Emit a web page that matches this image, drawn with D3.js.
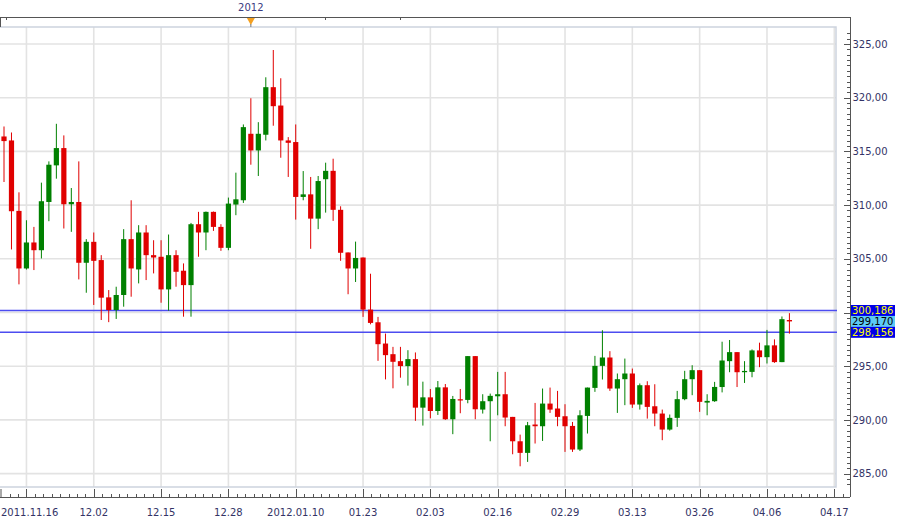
<!DOCTYPE html>
<html><head><meta charset="utf-8">
<script src="https://cdn.jsdelivr.net/npm/d3@7"></script>
<style>body{margin:0;background:#fff}svg{display:block}</style>
</head><body><svg id="c" width="900" height="522"></svg>
<script>
// ---- data (index 0..105) ----
const opens  = [316.39,316.02,309.46,304.10,306.52,305.80,310.29,313.70,315.31,310.08,
                310.29,304.63,306.58,304.88,301.41,300.23,301.63,306.83,304.01,307.45,
                305.34,305.19,302.15,305.34,303.89,302.55,308.22,307.45,309.37,307.97,
                306.02,310.05,310.45,316.64,315.09,316.55,320.98,319.27,316.02,315.87,
                310.76,311.00,308.74,312.41,313.19,309.56,305.59,304.10,305.12,300.27,
                299.09,297.11,296.12,295.47,295.01,295.66,291.14,292.10,290.83,293.03,
                290.06,291.92,291.86,295.94,290.96,291.74,292.20,292.39,290.28,288.01,
                286.93,289.57,289.41,291.52,291.06,290.34,289.44,287.24,290.37,292.98,
                295.03,295.81,292.92,293.79,294.32,291.43,293.23,291.27,290.59,289.10,
                290.19,291.93,293.79,294.63,291.61,291.74,293.06,295.47,296.31,294.44,
                294.47,296.47,295.84,296.94,295.38,299.30];
const highs  = [317.32,316.76,311.19,308.59,307.97,312.09,314.07,317.57,316.49,311.59,
                314.07,306.83,307.45,305.34,302.09,302.40,307.76,310.45,308.13,308.13,
                306.73,306.73,307.26,305.80,304.57,308.34,309.37,309.40,309.40,308.22,
                310.70,313.02,317.51,319.95,317.72,321.90,324.44,321.81,316.33,317.51,
                313.17,312.62,312.71,313.95,314.32,309.89,305.59,306.60,305.12,303.61,
                299.59,298.04,296.80,296.80,296.49,296.28,293.56,292.88,293.62,293.34,
                292.23,292.88,295.94,295.94,292.39,292.45,294.47,294.47,290.28,288.63,
                289.81,291.58,292.92,293.01,292.70,291.46,289.81,290.90,293.01,295.96,
                298.35,296.40,294.32,295.71,294.78,293.39,293.60,293.32,290.96,290.50,
                292.70,294.57,295.09,294.63,292.39,293.54,297.28,297.44,296.31,295.47,
                296.56,297.19,298.38,297.50,299.63,299.94];
const lows   = [312.15,305.87,302.62,304.00,303.95,305.03,308.50,312.46,307.82,307.51,
                303.08,301.84,300.70,299.30,299.10,299.40,300.54,301.47,302.71,303.02,
                303.64,300.91,300.17,302.40,299.61,299.61,305.19,305.80,307.60,305.74,
                305.80,309.06,310.20,313.76,312.71,316.02,317.39,314.41,312.62,308.65,
                310.45,305.93,307.76,309.30,308.53,304.81,301.70,302.84,299.59,298.90,
                295.50,293.77,292.94,293.93,293.19,289.91,289.47,290.15,290.46,290.00,
                288.67,290.62,291.55,290.06,290.59,288.01,290.43,289.41,286.80,285.68,
                286.09,287.80,288.04,290.65,289.41,287.02,287.02,287.10,288.73,292.61,
                293.76,292.70,290.65,291.37,291.12,290.96,290.12,289.41,288.11,289.00,
                289.35,291.83,292.30,290.75,290.43,291.68,292.56,294.44,293.06,293.44,
                293.97,294.91,295.25,295.31,295.38,298.03];
const closes = [315.96,309.43,304.10,306.52,305.80,310.36,313.76,315.31,310.08,310.29,
                304.63,306.58,304.81,301.38,300.23,301.63,306.83,304.10,307.45,305.34,
                305.12,302.15,305.34,303.79,302.55,308.22,307.45,309.37,307.97,306.02,
                310.14,310.54,317.26,315.09,316.64,320.98,319.21,316.02,315.80,310.76,
                311.00,308.74,312.24,313.19,309.56,305.56,304.10,305.08,300.27,299.03,
                297.05,296.03,295.41,295.01,295.66,291.14,292.10,290.83,293.03,290.06,
                291.95,291.86,295.94,290.99,291.74,292.24,292.39,290.22,288.01,286.93,
                289.50,289.41,291.52,290.96,290.28,289.41,287.24,290.43,293.01,295.03,
                295.81,292.92,293.79,294.32,291.43,293.23,291.21,290.59,289.10,290.19,
                291.93,293.79,294.63,291.68,291.77,293.07,295.53,296.31,294.44,294.56,
                296.47,295.84,296.94,295.38,299.38,299.17];

const tickIndex  = [3,12,21,30,39,48,57,66,75,84,93,102,111];
const tickLabels = ["2011.11.16","12.02","12.15","12.28","2012.01.10","01.23","02.03",
                    "02.16","02.29","03.13","03.26","04.06","04.17"];
const priceTicks  = [285,290,295,300,305,310,315,320,325];
const priceLabels = ["285,00","290,00","295,00","","305,00","310,00","315,00","320,00","325,00"];
const levelValues = [300.186, 298.156];
const levelLabels = ["300,186","298,156"];
const lastPrice = 299.170;
const lastLabel = "299,170";
const yearMarkerIndex = 33;
const yearLabel = "2012";

// ---- layout ----
const svg = d3.select("#c");
const plotL = 0, plotR = 836, plotT = 27, plotB = 487;
const axisX = 850, axisTop = 17, axisBottom = 497;
const x = d3.scaleLinear().domain([0, 111]).range([4, 834.3]);
const y = d3.scaleLinear().domain([285, 325]).range([473.6, 44]);
const FONT = "DejaVu Sans, Verdana, sans-serif";
const FS = 10;
const TXT = "#333366";
const RED = "#e00000", GREEN = "#008000";

// grid
const grid = svg.append("g");
grid.selectAll("line.h").data(priceTicks).join("line")
  .attr("x1", plotL).attr("x2", plotR).attr("y1", d => y(d)).attr("y2", d => y(d))
  .attr("stroke", "#e3e3e3").attr("stroke-width", 1.6);
grid.selectAll("line.v").data(tickIndex.filter(i => x(i) < plotR)).join("line")
  .attr("y1", plotT).attr("y2", plotB).attr("x1", d => x(d)).attr("x2", d => x(d))
  .attr("stroke", "#e3e3e3").attr("stroke-width", 1.6);

// plot frame (light)
svg.append("path").attr("d", `M${plotL},${plotT}H${plotR}V${plotB}H${plotL}`)
  .attr("fill", "none").attr("stroke", "#cdd3de").attr("stroke-width", 1.5);

// level lines
svg.selectAll("line.lvl").data(levelValues).join("line")
  .attr("x1", 0).attr("x2", plotR + 1).attr("y1", d => y(d)).attr("y2", d => y(d))
  .attr("stroke", "#4c4cf0").attr("stroke-width", 1.6);

// candles
const idx = d3.range(opens.length);
const cg = svg.append("g");
cg.selectAll("line.w").data(idx).join("line")
  .attr("x1", i => x(i)).attr("x2", i => x(i))
  .attr("y1", i => y(highs[i])).attr("y2", i => y(lows[i]))
  .attr("stroke", i => closes[i] >= opens[i] ? GREEN : RED).attr("stroke-width", 1);
cg.selectAll("rect").data(idx).join("rect")
  .attr("x", i => x(i) - 2.6).attr("width", 5.2)
  .attr("y", i => y(Math.max(opens[i], closes[i])))
  .attr("height", i => Math.max(1.2, Math.abs(y(opens[i]) - y(closes[i]))))
  .attr("fill", i => closes[i] >= opens[i] ? GREEN : RED);

// axes lines
const ax = svg.append("g").attr("stroke", "#555").attr("stroke-width", 1).attr("fill", "none");
ax.append("line").attr("x1", 0).attr("x2", axisX).attr("y1", axisTop + .5).attr("y2", axisTop + .5);
ax.append("line").attr("x1", axisX + .5).attr("x2", axisX + .5).attr("y1", axisTop).attr("y2", axisBottom);
ax.append("line").attr("x1", 0).attr("x2", axisX).attr("y1", axisBottom + .5).attr("y2", axisBottom + .5);
ax.append("line").attr("x1", .5).attr("x2", .5).attr("y1", axisTop).attr("y2", plotT);
ax.append("line").attr("x1", 1).attr("x2", 1).attr("y1", axisBottom - 8).attr("y2", axisBottom);

// bottom ticks
const minorPos = d3.range(-3, 110).map(k => 3 + k * 9 / 8).filter(i => x(i) > 2 && x(i) < axisX);
ax.selectAll("line.mn").data(minorPos).join("line")
  .attr("x1", d => Math.round(x(d)) + .5).attr("x2", d => Math.round(x(d)) + .5)
  .attr("y1", axisBottom - 3).attr("y2", axisBottom);
ax.selectAll("line.mj").data(tickIndex).join("line")
  .attr("x1", d => Math.round(x(d)) + .5).attr("x2", d => Math.round(x(d)) + .5)
  .attr("y1", axisBottom - 8).attr("y2", axisBottom);

// top ticks
ax.selectAll("line.tt").data([6, 325, 400]).join("line")
  .attr("x1", d => d + .5).attr("x2", d => d + .5).attr("y1", axisTop).attr("y2", axisTop + 3);

// right ticks
const minorY = d3.range(284, 326.5, 0.5).filter(v => y(v) > axisTop && y(v) < axisBottom);
ax.selectAll("line.rmn").data(minorY).join("line")
  .attr("x1", axisX - 3).attr("x2", axisX).attr("y1", d => Math.round(y(d)) + .5).attr("y2", d => Math.round(y(d)) + .5);
ax.selectAll("line.rmj").data(priceTicks).join("line")
  .attr("x1", axisX - 6).attr("x2", axisX).attr("y1", d => Math.round(y(d)) + .5).attr("y2", d => Math.round(y(d)) + .5);

// labels (bottom, clamped so they stay inside the picture)
svg.selectAll("text.xl").data(tickIndex).join("text")
  .attr("class", "xl")
  .attr("x", d => x(d)).attr("y", 516).attr("text-anchor", "middle")
  .attr("font-family", FONT).attr("font-size", FS).attr("fill", TXT)
  .text((d, i) => tickLabels[i])
  .each(function(d) {
    const w = this.getComputedTextLength();
    const cx = Math.max(w / 2 + 1, Math.min(899 - w / 2, x(d)));
    d3.select(this).attr("x", cx);
  });
svg.selectAll("text.yl").data(priceTicks).join("text")
  .attr("class", "yl")
  .attr("x", axisX + 2.5).attr("y", d => y(d) + 3.6)
  .attr("font-family", FONT).attr("font-size", FS).attr("fill", TXT)
  .text((d, i) => priceLabels[i]);

// price boxes
const boxes = [
  {v: levelValues[0], t: levelLabels[0], bg: "#0000e8", fg: "#ffff00"},
  {v: lastPrice, t: lastLabel, bg: "#5ccaf5", fg: "#000000"},
  {v: levelValues[1], t: levelLabels[1], bg: "#0000e8", fg: "#ffff00"}
];
const bg = svg.selectAll("g.box").data(boxes).join("g").attr("class", "box");
bg.append("rect").attr("x", axisX + 1).attr("width", 44)
  .attr("y", d => y(d.v) - 5.5).attr("height", 11).attr("fill", d => d.bg);
bg.append("text").attr("x", axisX + 2).attr("y", d => y(d.v) + 3.8)
  .attr("font-family", FONT).attr("font-size", FS).attr("fill", d => d.fg).text(d => d.t);

// year marker
const mx = x(yearMarkerIndex);
svg.append("path").attr("d", `M${mx - 4},${axisTop + 1}L${mx + 4},${axisTop + 1}L${mx},${axisTop + 8}Z`)
  .attr("fill", "#f4a020");
svg.append("line").attr("x1", mx).attr("x2", mx).attr("y1", axisTop + 7).attr("y2", plotT)
  .attr("stroke", "#777").attr("stroke-width", 1);
svg.append("text").attr("x", mx).attr("y", 11).attr("text-anchor", "middle")
  .attr("font-family", FONT).attr("font-size", FS).attr("fill", "#3a3a80").text(yearLabel);
</script></body></html>
